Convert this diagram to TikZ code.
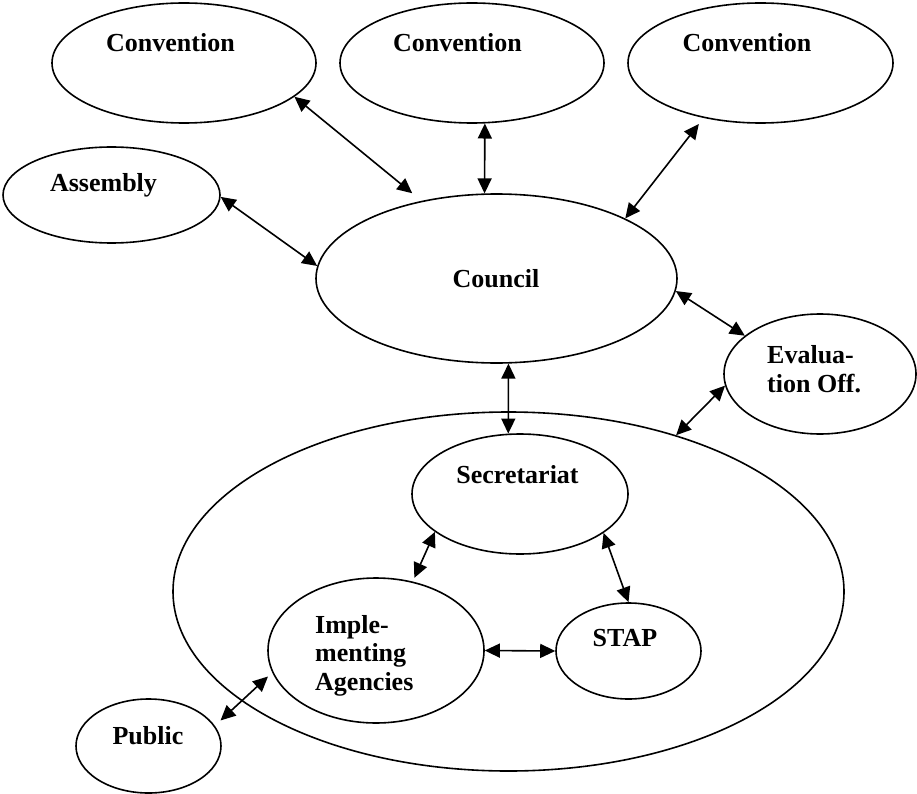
\documentclass[tikz,border=0pt]{standalone}
\usepackage{fontspec}
\setmainfont{Liberation Serif}
\usetikzlibrary{arrows.meta,shapes.geometric}
\begin{document}
\begin{tikzpicture}[x=1pt,y=-1pt,
  ell/.style={ellipse,draw=black,line width=1.6pt,inner sep=0pt,fill=none},
  txt/.style={inner sep=0pt,font=\fontsize{26}{28.5}\selectfont\bfseries},
  link/.style={line width=1.6pt,{Triangle[length=15pt,width=14pt]}-{Triangle[length=15pt,width=14pt]}}]
\useasboundingbox (0,0) rectangle (917,794);
% ellipses
\node[ell,minimum width=264pt,minimum height=120pt] (c1) at (184,63) {};
\node[ell,minimum width=264pt,minimum height=120pt] (c2) at (472,63) {};
\node[ell,minimum width=265pt,minimum height=120pt] (c3) at (760.5,63) {};
\node[ell,minimum width=217pt,minimum height=96pt] (asm) at (111.5,195) {};
\node[ell,minimum width=361pt,minimum height=169pt] (council) at (496.5,278.5) {};
\node[ell,minimum width=192pt,minimum height=120pt] (eval) at (820,374) {};
\node[ell,minimum width=671pt,minimum height=359pt] (big) at (508.5,591.5) {};
\node[ell,minimum width=216pt,minimum height=120pt] (sec) at (520,494) {};
\node[ell,minimum width=216pt,minimum height=145pt] (impl) at (376,650.5) {};
\node[ell,minimum width=145pt,minimum height=96pt] (stap) at (628.5,651) {};
\node[ell,minimum width=145pt,minimum height=94pt] (pub) at (148.5,746) {};
% texts
\node[txt,anchor=base] (t1) at (170.5,52) {Convention};
\node[txt,anchor=base] (t2) at (457.5,52) {Convention};
\node[txt,anchor=base] (t3) at (747,52) {Convention};
\node[txt,anchor=base] (tasm) at (103.5,192) {Assembly};
\node[txt,anchor=base] (tcouncil) at (496,287.3) {Council};
\node[txt,anchor=base] (tsec) at (517.5,483.3) {Secretariat};
\node[txt,anchor=base] (tstap) at (625,646.7) {STAP};
\node[txt,anchor=base] (tpub) at (148,744) {Public};
\node[txt,anchor=west,align=left] (teval) at (767,369.2) {Evalua-\\tion Off.};
\node[txt,anchor=west,align=left] (timpl) at (315,655.5) {Imple-\\menting\\Agencies};
% connectors
\draw[link,shorten >=12pt] (c1.-17.8) -- (council.134.7);
\draw[link] (c2.-78.9) -- (council.98.4);
\draw[link,shorten <=7.7pt] (c3.224.8) -- (council.25.07);
\draw[link] (asm.-1) -- (council.176);
\draw[link] (council.-4.3) -- (eval.153.1);
\draw[link] (council.-82.25) -- (sec.101.3);
\draw[link] (eval.187.8) -- (big.43.07);
\draw[link,shorten >=4pt] (sec.204.6) -- (impl.62.96);
\draw[link] (sec.-25.2) -- (stap.90.6);
\draw[link] (impl.0) -- (stap.180);
\draw[link,shorten <=7.7pt,shorten >=5.8pt] (pub.17.6) -- (impl.192.8);
\end{tikzpicture}
\end{document}
